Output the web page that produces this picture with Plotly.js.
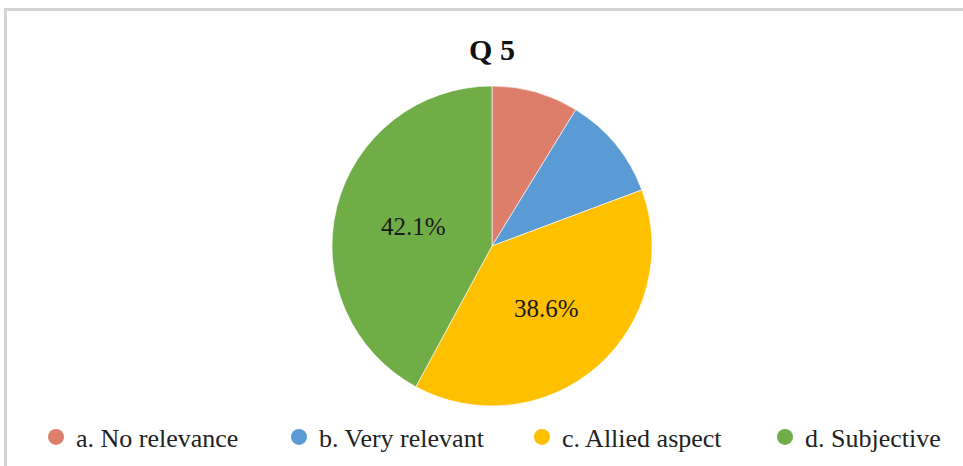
<!DOCTYPE html>
<html><head><meta charset="utf-8">
<script src="https://cdn.plot.ly/plotly-3.0.1.min.js"></script>
<style>
html,body{margin:0;padding:0;width:963px;height:466px;overflow:hidden;background:#fff;}
#frame{position:absolute;left:4px;top:8px;width:1000px;height:500px;border:3px solid #d3d3d3;box-sizing:border-box;pointer-events:none;z-index:5;}
#chart{position:absolute;left:0;top:0;width:1020px;height:466px;}
</style></head>
<body>
<div id="chart"></div>
<div id="frame"></div>
<script>
var categories = ["a. No relevance", "b. Very relevant", "c. Allied aspect", "d. Subjective"];
var counts = [5, 6, 22, 24];
var shownLabels = [false, false, true, true];
var colors = ["#DD7E6B", "#5B9BD5", "#FFC000", "#70AD47"];

var SERIF = "Liberation Serif";
var W = 1020;
var total = counts.reduce(function(a,b){return a+b;},0);
var texts = counts.map(function(v,i){ return shownLabels[i] ? (100*v/total).toFixed(1) + "%" : ""; });

var traces = [{
  type: "pie",
  labels: categories,
  values: counts,
  text: texts,
  textinfo: "text",
  textposition: "inside",
  insidetextorientation: "horizontal",
  sort: false,
  direction: "clockwise",
  rotation: 0,
  showlegend: false,
  marker: {colors: colors, line: {color: "rgba(255,255,255,0.6)", width: 1}},
  textfont: {family: SERIF, size: 25, color: "#1a1a1a"},
  domain: {x: [0, 984 / W], y: [0, 1]},
  hoverinfo: "label+percent"
}];
categories.forEach(function(c, i){
  traces.push({
    type: "scatter", mode: "markers", x: [null], y: [null], name: c,
    marker: {symbol: "circle", size: 20, color: colors[i]},
    showlegend: true, hoverinfo: "skip"
  });
});

var layout = {
  width: W, height: 466,
  margin: {l: 0, r: 0, t: 86, b: 60},
  paper_bgcolor: "#ffffff", plot_bgcolor: "rgba(0,0,0,0)",
  uniformtext: {minsize: 25, mode: "show"},
  title: {text: "<b>Q 5</b>", x: 492 / W, xanchor: "center", y: 0.893, yanchor: "middle",
          font: {family: SERIF, size: 30, color: "#111"}},
  xaxis: {visible: false, showgrid: false, zeroline: false},
  yaxis: {visible: false, showgrid: false, zeroline: false},
  showlegend: true,
  legend: {orientation: "h", x: 36 / W, xanchor: "left", y: -0.097, yanchor: "middle",
           entrywidth: 198, entrywidthmode: "pixels",
           font: {family: SERIF, size: 26, color: "#222"},
           tracegroupgap: 0, bgcolor: "rgba(0,0,0,0)"}
};
Plotly.newPlot("chart", traces, layout, {displayModeBar: false, staticPlot: true});
</script>
</body></html>
